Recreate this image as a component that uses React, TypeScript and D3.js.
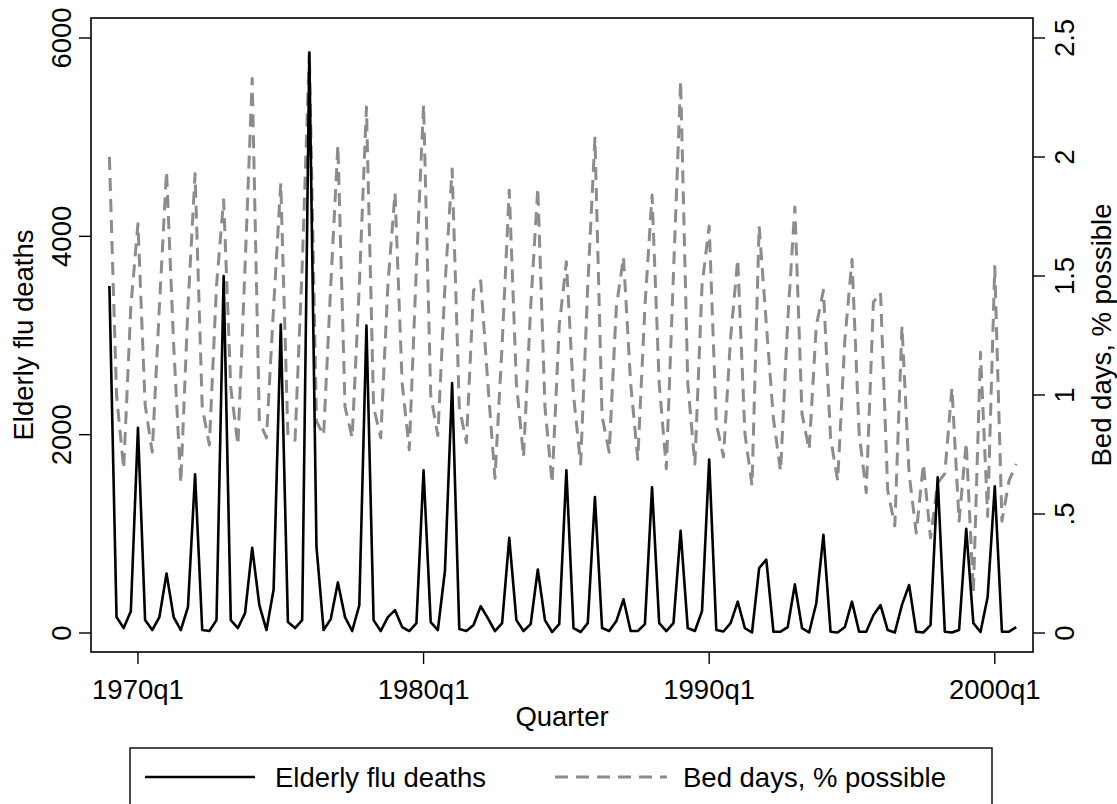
import React from "react";
import * as d3 from "d3";

// Quarterly series, 1969q1 .. 2000q4 (four values per year)
const startYear = 1969;

const fluDeaths: number[] = [
  3500, 160, 50, 220,
  2070, 130, 30, 160,
  600, 160, 30, 260,
  1600, 30, 20, 130,
  3600, 130, 50, 200,
  860, 280, 30, 440,
  3110, 110, 50, 130,
  5850, 870, 30, 140,
  510, 160, 20, 280,
  3100, 130, 20, 160,
  230, 60, 20, 100,
  1640, 110, 30, 630,
  2520, 40, 20, 80,
  270, 150, 20, 100,
  960, 130, 20, 90,
  640, 130, 10, 90,
  1640, 50, 10, 100,
  1370, 50, 20, 120,
  340, 20, 20, 90,
  1470, 100, 20, 100,
  1030, 50, 20, 220,
  1750, 30, 15, 100,
  316, 50, 5, 655,
  740, 13, 13, 60,
  490, 50, 5, 300,
  990, 13, 5, 60,
  316, 13, 13, 180,
  282, 30, 5, 283,
  484, 13, 5, 80,
  1570, 13, 5, 30,
  1050, 100, 10, 363,
  1480, 13, 13, 60,
];

const bedDays: number[] = [
  2.0, 1.0, 0.69, 1.37,
  1.72, 0.96, 0.76, 1.37,
  1.94, 1.21, 0.63, 1.37,
  1.93, 0.95, 0.79, 1.46,
  1.82, 1.03, 0.79, 1.54,
  2.33, 0.89, 0.82, 1.37,
  1.89, 0.83, 0.81, 1.54,
  2.44, 0.89, 0.83, 1.46,
  2.05, 0.95, 0.82, 1.46,
  2.21, 0.95, 0.82, 1.46,
  1.85, 1.05, 0.77, 1.54,
  2.22, 1.0, 0.83, 1.46,
  1.95, 0.95, 0.8, 1.44,
  1.48, 1.05, 0.65, 1.21,
  1.86, 1.05, 0.74, 1.37,
  1.87, 0.95, 0.63, 1.29,
  1.56, 1.0, 0.71, 1.46,
  2.08, 0.91, 0.76, 1.37,
  1.58, 1.05, 0.73, 1.37,
  1.84, 1.05, 0.69, 1.51,
  2.32, 1.05, 0.71, 1.46,
  1.71, 0.88, 0.74, 1.24,
  1.57, 0.84, 0.62, 1.71,
  1.3, 0.9, 0.68, 1.31,
  1.79, 0.92, 0.77, 1.29,
  1.44, 0.82, 0.64, 1.23,
  1.57, 0.84, 0.59, 1.39,
  1.43, 0.6, 0.45, 1.29,
  0.67, 0.42, 0.71, 0.4,
  0.63, 0.67, 1.03, 0.47,
  0.8, 0.17, 1.18, 0.49,
  1.54, 0.47, 0.64, 0.71,
];

const xTickLabels = ["1970q1", "1980q1", "1990q1", "2000q1"];
const leftTicks = [0, 2000, 4000, 6000];
const rightTicks = [0, 0.5, 1, 1.5, 2, 2.5];
const rightTickText = ["0", ".5", "1", "1.5", "2", "2.5"];

const W = 1117;
const H = 804;
const FONT = "'Liberation Sans', Arial, Helvetica, sans-serif";

// plot frame
const frame = { left: 91, right: 1033, top: 18, bottom: 652 };

// "1970q1" -> quarter index counted from 1969q1
const quarterIndex = (label: string) => {
  const y = +label.slice(0, 4);
  const q = +label.slice(5);
  return (y - startYear) * 4 + (q - 1);
};

export default function App() {
  const n = fluDeaths.length;
  const x = d3.scaleLinear().domain([0, n - 1]).range([109.4, 1016.2]);
  const yL = d3.scaleLinear().domain([0, 6000]).range([633, 38]);
  const yR = d3.scaleLinear().domain([0, 2.5]).range([633, 38]);

  const idx = d3.range(n);
  const deathsPath = d3
    .line<number>()
    .x((i) => x(i))
    .y((i) => yL(fluDeaths[i]))(idx) as string;
  const bedPath = d3
    .line<number>()
    .x((i) => x(i))
    .y((i) => yR(bedDays[i]))(idx) as string;

  const fs = 27.5;
  const midY = (frame.top + frame.bottom) / 2;
  const midX = (frame.left + frame.right) / 2;
  const dash = "13,8";

  return (
    <svg width={W} height={H} style={{ position: "absolute", left: 0, top: 0, background: "#fff" }}>
      <rect x={0} y={0} width={W} height={H} fill="#fff" />
      {/* series */}
      <path d={bedPath} fill="none" stroke="#8c8c8c" strokeWidth={3} strokeDasharray={dash} strokeLinejoin="round" />
      <path d={deathsPath} fill="none" stroke="#000" strokeWidth={2.6} strokeLinejoin="round" />

      {/* frame */}
      <rect
        x={frame.left}
        y={frame.top}
        width={frame.right - frame.left}
        height={frame.bottom - frame.top}
        fill="none"
        stroke="#000"
        strokeWidth={1.6}
      />

      {/* left axis */}
      {leftTicks.map((t) => (
        <g key={"l" + t}>
          <line x1={frame.left - 12} x2={frame.left} y1={yL(t)} y2={yL(t)} stroke="#000" strokeWidth={1.4} />
          <text
            transform={`translate(${frame.left - 20},${yL(t)}) rotate(-90)`}
            textAnchor="middle"
            fontFamily={FONT}
            fontSize={fs}
          >
            {t}
          </text>
        </g>
      ))}
      <text
        transform={`translate(33,${midY}) rotate(-90)`}
        textAnchor="middle"
        fontFamily={FONT}
        fontSize={fs}
      >
        Elderly flu deaths
      </text>

      {/* right axis */}
      {rightTicks.map((t, k) => (
        <g key={"r" + t}>
          <line x1={frame.right} x2={frame.right + 12} y1={yR(t)} y2={yR(t)} stroke="#000" strokeWidth={1.4} />
          <text
            transform={`translate(${frame.right + 41},${yR(t)}) rotate(-90)`}
            textAnchor="middle"
            fontFamily={FONT}
            fontSize={fs}
          >
            {rightTickText[k]}
          </text>
        </g>
      ))}
      <text
        transform={`translate(${frame.right + 78},${midY}) rotate(-90)`}
        textAnchor="middle"
        fontFamily={FONT}
        fontSize={fs}
      >
        Bed days, % possible
      </text>

      {/* bottom axis */}
      {xTickLabels.map((lab) => {
        const px = x(quarterIndex(lab));
        return (
          <g key={lab}>
            <line x1={px} x2={px} y1={frame.bottom} y2={frame.bottom + 12} stroke="#000" strokeWidth={1.4} />
            <text x={px} y={frame.bottom + 47} textAnchor="middle" fontFamily={FONT} fontSize={fs}>
              {lab}
            </text>
          </g>
        );
      })}
      <text x={midX} y={frame.bottom + 74} textAnchor="middle" fontFamily={FONT} fontSize={fs}>
        Quarter
      </text>

      {/* legend */}
      <rect x={130} y={748} width={862} height={60} fill="#fff" stroke="#000" strokeWidth={1.4} />
      <line x1={145} x2={255} y1={777} y2={777} stroke="#000" strokeWidth={2.6} />
      <text x={275} y={787} fontFamily={FONT} fontSize={fs}>
        Elderly flu deaths
      </text>
      <line x1={555} x2={667} y1={777} y2={777} stroke="#8c8c8c" strokeWidth={3} strokeDasharray={dash} />
      <text x={683} y={787} fontFamily={FONT} fontSize={fs}>
        Bed days, % possible
      </text>
    </svg>
  );
}
